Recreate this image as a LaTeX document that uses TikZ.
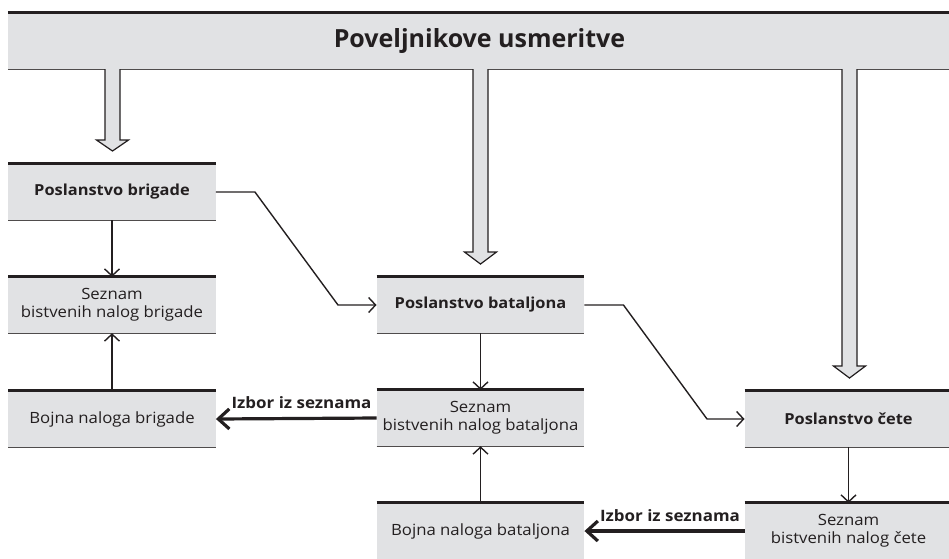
\documentclass[tikz,border=0pt]{standalone}
\usepackage{fontspec}
\setmainfont{Open Sans}
\newfontfamily\widesans{Open Sans}[FakeStretch=1.08]
\usetikzlibrary{arrows.meta}
\definecolor{boxgray}{HTML}{E1E2E4}
\definecolor{ink}{HTML}{231F20}
\tikzset{
  box/.style={rectangle, fill=boxgray, minimum width=207.5pt, minimum height=56pt,
    inner sep=0pt, align=center, text=ink, font=\widesans\fontsize{15.5}{18}\selectfont},
  titlebox/.style={box, font=\widesans\fontsize{15.2}{18}\selectfont\bfseries},
  topline/.style={ink, line width=3pt},
  botline/.style={ink!80, line width=0.9pt},
  flow/.style={ink, line width=1.4pt, -{Straight Barb[length=7pt,width=15pt]}},
  pick/.style={ink, line width=3.2pt, -{Straight Barb[length=11pt,width=20pt]}},
  picklabel/.style={text=ink, font=\widesans\fontsize{15.7}{18}\selectfont\bfseries, inner sep=0pt},
  fat/.style={ink, line width=1.2pt, line join=miter},
}
% broad downward arrow leaving the banner: #1 = shaft centre x, #2 = head base y, #3 = tip y
\newcommand{\fatarrow}[3]{%
  \fill[boxgray] (#1-7.5,66) -- (#1-7.5,#2) -- (#1-16,#2) -- (#1,#3) -- (#1+16,#2)
    -- (#1+7.5,#2) -- (#1+7.5,66) -- cycle;
  \draw[fat] (#1-7.5,69) -- (#1-7.5,#2) -- (#1-16,#2) -- (#1,#3) -- (#1+16,#2)
    -- (#1+7.5,#2) -- (#1+7.5,69);
}
\begin{document}
\begin{tikzpicture}[x=1pt,y=-1pt]
  \useasboundingbox (0,0) rectangle (949,558);

  % banner
  \node[rectangle, fill=boxgray, minimum width=943pt, minimum height=56pt, inner sep=0pt,
        text=ink, font=\fontsize{25}{30}\selectfont\bfseries] (banner) at (479.5,41)
        {Poveljnikove usmeritve};
  \draw[topline] (banner.north west) -- (banner.north east);
  \draw[botline] (banner.south west) -- (banner.south east);

  % boxes
  \node[titlebox] (pb)   at (112,192)   {Poslanstvo brigade};
  \node[box]      (sb)   at (112,305)   {Seznam\\bistvenih nalog brigade};
  \node[box]      (bb)   at (112,419)   {Bojna naloga brigade};
  \node[titlebox] (pbat) at (480.5,305) {Poslanstvo bataljona};
  \node[box]      (sbat) at (480.5,418) {Seznam\\bistvenih nalog bataljona};
  \node[box]      (bbat) at (480.5,531) {Bojna naloga bataljona};
  \node[titlebox] (pc)   at (848.5,419) {Poslanstvo čete};
  \node[box]      (sc)   at (848.5,531) {Seznam\\bistvenih nalog čete};

  \foreach \n in {pb,sb,bb,pbat,sbat,bbat,pc,sc} {
    \draw[topline] (\n.north west) -- (\n.north east);
    \draw[botline] (\n.south west) -- (\n.south east);
  }

  % broad arrows from the banner
  \fatarrow{112.5}{140}{151}
  \fatarrow{480.5}{252}{264}
  \fatarrow{849.5}{366}{378}

  % flow between levels
  \draw[flow] (pb.south) -- (sb.north);
  \draw[flow] (bb.north) -- (sb.south);
  \draw[flow] (pbat.south) -- (sbat.north);
  \draw[flow] (bbat.north) -- (sbat.south);
  \draw[flow] (pc.south) -- (sc.north);
  \draw[flow] (pb.east) -- ++(39,0) -- (338,305) -- (pbat.west);
  \draw[flow] (pbat.east) -- ++(39,0) -- (707,419) -- (pc.west);

  % selection from the list
  \draw[pick] (sbat.west) -- (bb.east);
  \draw[pick] (sc.west) -- (bbat.east);
  \node[picklabel] (lab1) at (301.5,403) {Izbor iz seznama};
  \node[picklabel] (lab2) at (670,516)   {Izbor iz seznama};
\end{tikzpicture}
\end{document}
